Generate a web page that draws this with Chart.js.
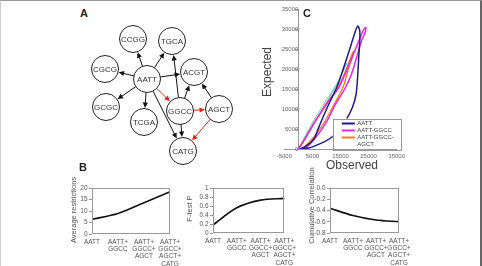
<!DOCTYPE html>
<html>
<head>
<meta charset="utf-8">
<script src="https://cdn.jsdelivr.net/npm/chart.js@4"></script>
<style>
  body { margin: 0; background: #fff; font-family: "Liberation Sans", Arial, sans-serif; }
  #page { position: relative; width: 482px; height: 266px; overflow: hidden; background: #fff; }
  #frame { position: absolute; left: 0; top: 0; width: 482px; height: 266px; box-sizing: border-box;
           border-top: 1px solid #999; border-left: 1px solid #ccc; border-right: 2px solid #666; pointer-events: none; }
  canvas { position: absolute; }
  .panel { position: absolute; font-weight: bold; font-size: 11px; color: #222; line-height: 1; }
  .axisTitle { position: absolute; font-size: 12px; color: #444; white-space: nowrap; line-height: 1;
               transform: translate(-50%, -50%); }
</style>
</head>
<body>
<div id="page">
  <canvas id="netChart" width="160" height="150" style="left:80px;top:20px"></canvas>
  <canvas id="loopChart" width="160" height="170" style="left:250px;top:0px"></canvas>
  <canvas id="restrChart" width="130" height="106" style="left:60px;top:160px"></canvas>
  <canvas id="fChart" width="122" height="106" style="left:178px;top:160px"></canvas>
  <canvas id="corrChart" width="115" height="106" style="left:300px;top:160px"></canvas>

  <div class="panel" style="left:80px;top:8px">A</div>
  <div class="panel" style="left:303px;top:8px">C</div>
  <div class="panel" style="left:79px;top:162px">B</div>
  <div class="axisTitle" style="left:267px;top:72px;transform:translate(-50%,-50%) rotate(-90deg)">Expected</div>
  <div class="axisTitle" style="left:352px;top:165px">Observed</div>
  <div id="frame"></div>
</div>

<script>
// ---- data ----

// Panel A: network of restriction sites (layout units)
const nodeNames = ['CCGG', 'TGCA', 'CGCG', 'AATT', 'ACGT', 'GCGC', 'TCGA', 'GGCC', 'AGCT', 'CATG'];
const nodeX = [5.3, 9.2, 2.5, 6.7, 11.4, 2.6, 6.4, 10.0, 13.9, 10.3];
const nodeY = [13.1, 12.9, 10.1, 9.1, 9.8, 6.3, 4.8, 5.9, 6.1, 1.9];
const blackEdges = [
    ['AATT', 'CCGG'], ['AATT', 'TGCA'], ['AATT', 'CGCG'], ['AATT', 'ACGT'],
    ['AATT', 'GCGC'], ['AATT', 'TCGA'], ['AATT', 'CATG'],
    ['GGCC', 'TGCA'], ['GGCC', 'ACGT'], ['GGCC', 'CATG'], ['AGCT', 'ACGT']
];
const redEdges = [['AATT', 'GGCC'], ['GGCC', 'AGCT'], ['AGCT', 'CATG']];

// Panel C: observed vs expected loops
const aattObs = [600, 2400, 4500, 5900, 6800, 8800, 10700, 12400, 14000, 16200, 18300, 20000, 21100, 21800, 21900, 21500, 21000, 20500, 19300, 17000, 14500, 11000, 8000, 4000, 1000, 600];
const aattExp = [0, 600, 1700, 2900, 4600, 8000, 11000, 13500, 16000, 20500, 25000, 28800, 30750, 29800, 27800, 23000, 17000, 13500, 10500, 7200, 4500, 2500, 1400, 300, 0, 0];
const ggccObs = [0, 1780, 3800, 5940, 8700, 11500, 14300, 16800, 19200, 21500, 23200, 23990, 23900, 22560, 21000, 19000, 16500, 13060, 10100, 5940, 2380, 0];
const ggccExp = [0, 1830, 4300, 6830, 9800, 12700, 15200, 19000, 23000, 27000, 29800, 30430, 29300, 27250, 23500, 18900, 15000, 11000, 6830, 2670, 170, 0];
const agctObs = [0, 2200, 6000, 10000, 13800, 16800, 18700, 19570, 19400, 18000, 16000, 13000, 9500, 5500, 2000, 0];
const agctExp = [0, 2500, 7000, 11500, 15000, 19500, 23000, 24330, 23500, 20500, 15600, 11500, 7000, 3000, 500, 0];
const catgObs = [0, 1600, 5800, 10000, 13900, 17300, 16600, 14500, 11000, 7000, 3000, 0];
const catgExp = [0, 2200, 7500, 12300, 16500, 21500, 20500, 17300, 12800, 8000, 3000, 0];
const loopLabels = ['AATT', 'AATT-GGCC', 'AATT-GGCC-AGCT', 'AATT-GGCC-AGCT-CATG'];

// Panel B: cumulative enzyme sets
const setLabels = [['AATT'], ['AATT+', 'GGCC'], ['AATT+', 'GGCC+', 'AGCT'], ['AATT+', 'GGCC+', 'AGCT+', 'CATG']];
const avgRestrictions = [6.4, 8.9, 13.6, 18.4];
const fTestP = [0.18, 0.56, 0.73, 0.77];
const cumCorrelation = [-0.36, -0.49, -0.57, -0.60];

const FONT = '"Liberation Sans", Arial, sans-serif';

// ---- Panel A: network ----
function nodePixel(chart, name) {
    const i = nodeNames.indexOf(name);
    return [chart.scales.x.getPixelForValue(nodeX[i]), chart.scales.y.getPixelForValue(nodeY[i])];
}

const networkPlugin = {
    id: 'network',
    beforeDatasetsDraw(chart) {
        const ctx = chart.ctx;
        const r = chart.data.datasets[0].pointRadius;
        function edge(pair, color) {
            const [x1, y1] = nodePixel(chart, pair[0]);
            const [x2, y2] = nodePixel(chart, pair[1]);
            const a = Math.atan2(y2 - y1, x2 - x1);
            const c = Math.cos(a), s = Math.sin(a);
            const ex = x2 - c * (r + 0.5), ey = y2 - s * (r + 0.5);
            ctx.strokeStyle = color;
            ctx.fillStyle = color;
            ctx.lineWidth = 1;
            ctx.beginPath();
            ctx.moveTo(x1 + c * r, y1 + s * r);
            ctx.lineTo(ex - c * 4, ey - s * 4);
            ctx.stroke();
            ctx.beginPath();
            ctx.moveTo(ex, ey);
            ctx.lineTo(ex - 5.5 * c + 2.6 * s, ey - 5.5 * s - 2.6 * c);
            ctx.lineTo(ex - 5.5 * c - 2.6 * s, ey - 5.5 * s + 2.6 * c);
            ctx.closePath();
            ctx.fill();
        }
        ctx.save();
        blackEdges.forEach(p => edge(p, '#111'));
        redEdges.forEach(p => edge(p, '#e3241b'));
        ctx.restore();
    },
    afterDatasetsDraw(chart) {
        const ctx = chart.ctx;
        ctx.save();
        ctx.font = '8px ' + FONT;
        ctx.fillStyle = '#333';
        ctx.textAlign = 'center';
        ctx.textBaseline = 'middle';
        nodeNames.forEach(n => {
            const [x, y] = nodePixel(chart, n);
            ctx.fillText(n, x, y + 0.5);
        });
        ctx.restore();
    }
};

new Chart(document.getElementById('netChart'), {
    type: 'scatter',
    data: {
        datasets: [{
            data: nodeNames.map((n, i) => ({ x: nodeX[i], y: nodeY[i] })),
            pointRadius: 13.5,
            pointBackgroundColor: '#fff',
            pointBorderColor: '#222',
            pointBorderWidth: 1,
            clip: false
        }]
    },
    options: {
        responsive: false,
        animation: false,
        events: [],
        layout: { padding: 0, autoPadding: false },
        plugins: { legend: { display: false }, tooltip: { enabled: false } },
        scales: {
            x: { type: 'linear', min: 0, max: 16, display: false },
            y: { type: 'linear', min: 0, max: 15, display: false }
        }
    },
    plugins: [networkPlugin]
});

// ---- Panel C: loops ----
function wrapLabel(ctx, text, maxW) {
    if (ctx.measureText(text).width <= maxW) return [text];
    let cut = -1;
    for (let i = 0; i < text.length; i++) {
        if (text[i] === '-' && ctx.measureText(text.slice(0, i + 1)).width <= maxW) cut = i;
    }
    if (cut < 0) return [text];
    return [text.slice(0, cut + 1), text.slice(cut + 1)];
}

const loopLegendPlugin = {
    id: 'loopLegend',
    afterDatasetsDraw(chart) {
        const { ctx, chartArea } = chart;
        const left = chartArea.left + 48.5, right = chartArea.right + 4.5;
        const top = chartArea.bottom - 30.5, bottom = chartArea.bottom;
        ctx.save();
        ctx.fillStyle = '#fff';
        ctx.fillRect(left, top, right - left, bottom - top);
        ctx.strokeStyle = '#999';
        ctx.lineWidth = 1;
        ctx.strokeRect(Math.round(left) + 0.5, Math.round(top) + 0.5, Math.round(right - left), Math.round(bottom - top));
        ctx.font = '6px ' + FONT;
        ctx.textBaseline = 'middle';
        let y = top + 5;
        chart.data.datasets.forEach(ds => {
            if (!ds.inLegend) return;
            const lines = wrapLabel(ctx, ds.label, right - (left + 25) - 1);
            ctx.strokeStyle = ds.borderColor;
            ctx.lineWidth = 2;
            ctx.beginPath();
            ctx.moveTo(left + 9, y);
            ctx.lineTo(left + 22, y);
            ctx.stroke();
            ctx.fillStyle = '#444';
            lines.forEach((ln, k) => ctx.fillText(ln, left + 24.5, y + k * 6.6));
            y += 6.2 + (lines.length - 1) * 6.6 + 0.8;
        });
        ctx.restore();
    }
};

function loopData(xs, ys) {
    return xs.map((x, i) => ({ x: x, y: ys[i] }));
}

new Chart(document.getElementById('loopChart'), {
    type: 'scatter',
    data: {
        datasets: [
            { label: loopLabels[0], data: loopData(aattObs, aattExp), borderColor: '#1d1a8c', borderWidth: 1.5, inLegend: true },
            { label: loopLabels[1], data: loopData(ggccObs, ggccExp), borderColor: '#e426e6', borderWidth: 1.5, inLegend: true },
            { label: loopLabels[2], data: loopData(agctObs, agctExp), borderColor: '#f27a22', borderWidth: 1.3, inLegend: true },
            { label: loopLabels[3], data: loopData(catgObs, catgExp), borderColor: '#52c9b4', borderWidth: 0.9, inLegend: false }
        ].map(ds => Object.assign(ds, { showLine: true, pointRadius: 0, tension: 0.25, fill: false }))
    },
    options: {
        responsive: false,
        animation: false,
        events: [],
        layout: { padding: { left: 34.3, right: 13.3, top: 9, bottom: 0 }, autoPadding: false },
        plugins: { legend: { display: false }, tooltip: { enabled: false } },
        scales: {
            x: {
                type: 'linear', min: -5000, max: 35000,
                ticks: { stepSize: 10000, font: { size: 6, family: FONT }, color: '#666', padding: 3.5, maxRotation: 0, callback: v => String(v) },
                grid: { display: false, drawTicks: false },
                border: { display: true, color: '#999' },
                afterFit: s => { s.height = 21; }
            },
            y: {
                type: 'linear', min: 0, max: 35000, position: { x: 0 },
                ticks: { stepSize: 5000, autoSkip: false, font: { size: 6, family: FONT }, color: '#666', padding: 1.2, callback: v => String(v) },
                grid: { display: true, drawOnChartArea: false, drawTicks: true, tickLength: 3, color: '#999' },
                border: { display: true, color: '#999' }
            }
        }
    },
    plugins: [loopLegendPlugin]
});

// ---- Panel B: three small trend charts ----
const boxTitlePlugin = {
    id: 'boxTitle',
    afterDraw(chart, args, opts) {
        const { ctx, chartArea: a } = chart;
        ctx.save();
        ctx.strokeStyle = '#999';
        ctx.lineWidth = 1;
        ctx.strokeRect(Math.round(a.left) + 0.5, Math.round(a.top) + 0.5, Math.round(a.right - a.left) - 1, Math.round(a.bottom - a.top) - 1);
        ctx.translate(opts.x, (a.top + a.bottom) / 2 + opts.shift);
        ctx.rotate(-Math.PI / 2);
        ctx.textAlign = 'center';
        ctx.textBaseline = 'middle';
        ctx.font = '7.5px ' + FONT;
        ctx.fillStyle = '#555';
        ctx.fillText(opts.text, 0, 0);
        ctx.restore();
    }
};

function trendChart(id, values, yMin, yMax, step, fmt, title, box) {
    return new Chart(document.getElementById(id), {
        type: 'line',
        data: {
            labels: setLabels,
            datasets: [{
                data: values,
                borderColor: '#111',
                borderWidth: 1.6,
                pointRadius: 0,
                tension: 0.3,
                fill: false
            }]
        },
        options: {
            responsive: false,
            animation: false,
            events: [],
            layout: { padding: { left: 0, right: box.right, top: 28, bottom: 0 }, autoPadding: false },
            plugins: {
                legend: { display: false },
                tooltip: { enabled: false },
                boxTitle: { text: title, x: box.titleX, shift: box.shift }
            },
            scales: {
                x: {
                    offset: false,
                    ticks: { font: { size: 6.5, family: FONT, lineHeight: 1.15 }, color: '#555', padding: 4, autoSkip: false, maxRotation: 0 },
                    grid: { display: false, drawTicks: false },
                    border: { display: false },
                    afterFit: s => { s.height = box.xh; }
                },
                y: {
                    min: yMin, max: yMax,
                    ticks: { stepSize: step, autoSkip: false, font: { size: 6.5, family: FONT }, color: '#555', padding: 1.5, callback: fmt },
                    grid: { display: true, drawOnChartArea: false, tickLength: 3, color: '#999' },
                    border: { display: false },
                    afterFit: s => { s.width = box.yw; }
                }
            }
        },
        plugins: [boxTitlePlugin]
    });
}

trendChart('restrChart', avgRestrictions, 0, 20, 5, v => String(v), 'Average restrictions',
    { right: 20, yw: 32, xh: 32, titleX: 14, shift: -1 });
trendChart('fChart', fTestP, 0, 1, 0.2, v => String(Math.round(v * 10) / 10), 'F-test P',
    { right: 15, yw: 35, xh: 33, titleX: 12, shift: -2 });
trendChart('corrChart', cumCorrelation, -0.8, 0, 0.2, v => (Math.abs(v) < 1e-9 ? '0.0' : v.toFixed(1)), 'Cumulative Correlation',
    { right: 16, yw: 30, xh: 33, titleX: 12, shift: -5 });
</script>
</body>
</html>
